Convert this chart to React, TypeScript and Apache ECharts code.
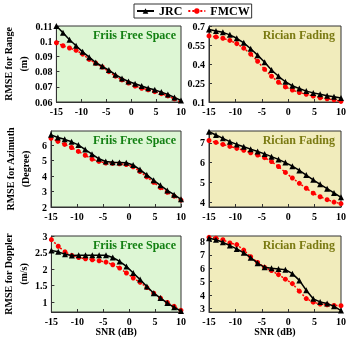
import React, { useEffect, useRef } from "react";
import * as echarts from "echarts";

const SNR = [-15, -13.68, -12.37, -11.05, -9.74, -8.42, -7.11, -5.79, -4.47, -3.16, -1.84, -0.53, 0.79, 2.11, 3.42, 4.74, 6.05, 7.37, 8.68, 10];

const jrcRangeFriis = [0.110, 0.1055, 0.101, 0.097, 0.093, 0.0895, 0.086, 0.0835, 0.081, 0.078, 0.0755, 0.0735, 0.072, 0.0705, 0.069, 0.068, 0.0665, 0.065, 0.063, 0.061];
const fmcwRangeFriis = [0.099, 0.097, 0.0955, 0.094, 0.0915, 0.088, 0.0855, 0.083, 0.080, 0.077, 0.0745, 0.0725, 0.0705, 0.069, 0.068, 0.0668, 0.0655, 0.064, 0.062, 0.0598];

const jrcRangeRician = [0.672, 0.661, 0.65, 0.63, 0.603, 0.567, 0.52, 0.47, 0.414, 0.353, 0.303, 0.26, 0.228, 0.206, 0.186, 0.172, 0.161, 0.15, 0.142, 0.131];
const fmcwRangeRician = [0.622, 0.614, 0.603, 0.586, 0.561, 0.525, 0.478, 0.422, 0.358, 0.303, 0.256, 0.219, 0.194, 0.175, 0.161, 0.147, 0.133, 0.125, 0.117, 0.105];

const jrcAzimuthFriis = [6.67, 6.5, 6.38, 6.22, 6.02, 5.72, 5.42, 5.12, 4.95, 4.9, 4.88, 4.86, 4.72, 4.42, 4.08, 3.73, 3.4, 3.07, 2.8, 2.5];
const fmcwAzimuthFriis = [6.45, 6.25, 6.05, 5.85, 5.6, 5.35, 5.1, 4.95, 4.85, 4.82, 4.8, 4.75, 4.6, 4.3, 3.95, 3.6, 3.25, 2.95, 2.7, 2.45];

const jrcAzimuthRician = [7.56, 7.4, 7.23, 7.06, 6.92, 6.8, 6.68, 6.56, 6.44, 6.3, 6.16, 6.0, 5.82, 5.6, 5.37, 5.13, 4.9, 4.68, 4.46, 4.24];
const fmcwAzimuthRician = [7.12, 7.02, 6.92, 6.82, 6.72, 6.62, 6.5, 6.38, 6.25, 6.05, 5.8, 5.5, 5.22, 4.95, 4.7, 4.45, 4.27, 4.12, 4.0, 3.92];

const jrcDopplerFriis = [2.56, 2.52, 2.45, 2.41, 2.42, 2.42, 2.42, 2.42, 2.42, 2.35, 2.23, 2.08, 1.88, 1.68, 1.47, 1.27, 1.12, 0.97, 0.84, 0.73];
const fmcwDopplerFriis = [2.89, 2.69, 2.52, 2.41, 2.35, 2.31, 2.28, 2.25, 2.21, 2.13, 2.03, 1.88, 1.73, 1.6, 1.44, 1.27, 1.12, 0.99, 0.87, 0.75];

const jrcDopplerRician = [8.24, 8.12, 7.93, 7.69, 7.44, 7.15, 6.79, 6.38, 6.07, 6.0, 5.95, 5.9, 5.6, 5.1, 4.37, 3.73, 3.5, 3.38, 3.17, 2.86];
const fmcwDopplerRician = [8.3, 8.24, 8.12, 7.88, 7.76, 7.35, 6.86, 6.43, 6.07, 5.83, 5.53, 5.19, 4.86, 4.3, 3.75, 3.48, 3.34, 3.29, 3.24, 3.22];

const xTicks = [-15, -10, -5, 0, 5, 10];
const yTicksRangeFriis = [0.06, 0.07, 0.08, 0.09, 0.1, 0.11];
const yTicksRangeRician = [0.1, 0.25, 0.4, 0.55, 0.7];
const yTicksAzimuthFriis = [2, 3, 4, 5, 6];
const yTicksAzimuthRician = [4, 5, 6, 7];
const yTicksDopplerFriis = [1, 1.5, 2, 2.5, 3];
const yTicksDopplerRician = [3, 4, 5, 6, 7, 8];

const yLimits = [
  [0.06, 0.11], [0.1, 0.7],
  [2, 6.92], [3.75, 7.6],
  [0.7, 3], [2.75, 8.4],
];

const yNames = ["RMSE for Range\n(m)", "RMSE for Azimuth\n(Degree)", "RMSE for Doppler\n(m/s)"];
const panelTitles = ["Friis Free Space", "Rician Fading"];
const legendNames = ["JRC", "FMCW"];
const xName = "SNR (dB)";

const FONT = "'Liberation Serif', 'Times New Roman', serif";

export default function App() {
  const ref = useRef<HTMLDivElement>(null);
  useEffect(() => {
    if (!ref.current) return;
    const chart = echarts.init(ref.current, null, { renderer: "svg" });

    const jrcSets = [jrcRangeFriis, jrcRangeRician, jrcAzimuthFriis, jrcAzimuthRician, jrcDopplerFriis, jrcDopplerRician];
    const fmcwSets = [fmcwRangeFriis, fmcwRangeRician, fmcwAzimuthFriis, fmcwAzimuthRician, fmcwDopplerFriis, fmcwDopplerRician];
    const yTickSets = [yTicksRangeFriis, yTicksRangeRician, yTicksAzimuthFriis, yTicksAzimuthRician, yTicksDopplerFriis, yTicksDopplerRician];

    const colLeft = [51, 209];
    const colWidth = [130, 132];
    const rowTop = [26, 131, 236];
    const rowHeight = 76;
    const bg = ["#ddf6d4", "#f1ecbc"];
    const titleColor = ["#138013", "#7a7a12"];
    const titleRight = [183, 24];

    const grids: any[] = [];
    const xAxes: any[] = [];
    const yAxes: any[] = [];
    const series: any[] = [];
    const graphics: any[] = [];

    for (let i = 0; i < 6; i++) {
      const r = Math.floor(i / 2);
      const c = i % 2;
      grids.push({
        left: colLeft[c], top: rowTop[r], width: colWidth[c], height: rowHeight,
        show: true, backgroundColor: bg[c], borderColor: "#333", borderWidth: 1,
      });
      xAxes.push({
        type: "value", gridIndex: i, min: -15, max: 10, interval: 5,
        name: r === 2 ? xName : "", nameLocation: "middle", nameGap: 14,
        nameTextStyle: { fontFamily: FONT, fontWeight: "bold", fontSize: 10, color: "#000" },
        axisLine: { onZero: false, lineStyle: { color: "#333" } },
        axisTick: { inside: true, length: 3, customValues: xTicks, lineStyle: { color: "#333" } },
        axisLabel: { customValues: xTicks, margin: 4, fontFamily: FONT, fontWeight: "bold", fontSize: 10, color: "#000" },
        splitLine: { show: false },
      });
      const yt = yTickSets[i];
      yAxes.push({
        type: "value", gridIndex: i, min: yLimits[i][0], max: yLimits[i][1],
        name: c === 0 ? yNames[r] : "", nameLocation: "middle", nameGap: 18, nameRotate: 90,
        nameTextStyle: { fontFamily: FONT, fontWeight: "bold", fontSize: 10, color: "#000", lineHeight: 15 },
        axisLine: { onZero: false, lineStyle: { color: "#333" } },
        axisTick: { inside: true, length: 3, customValues: yt, lineStyle: { color: "#333" } },
        axisLabel: {
          customValues: yt, margin: 4, fontFamily: FONT, fontWeight: "bold", fontSize: 10, color: "#000",
          formatter: (v: number) => String(parseFloat(v.toFixed(3))),
        },
        splitLine: { show: false },
      });
      series.push({
        name: legendNames[1], type: "line", xAxisIndex: i, yAxisIndex: i,
        data: SNR.map((x, k) => [x, fmcwSets[i][k]]),
        symbol: "circle", symbolSize: 5,
        itemStyle: { color: "#ff0000" },
        lineStyle: { color: "#ff0000", width: 1.5, type: [2, 2] },
        z: 2,
      });
      series.push({
        name: legendNames[0], type: "line", xAxisIndex: i, yAxisIndex: i,
        data: SNR.map((x, k) => [x, jrcSets[i][k]]),
        symbol: "triangle", symbolSize: 6,
        itemStyle: { color: "#000" },
        lineStyle: { color: "#000", width: 1.5 },
        z: 3,
      });
      graphics.push({
        type: "text", right: titleRight[c], top: rowTop[r] + 3, z: 10,
        style: { text: panelTitles[c], fill: titleColor[c], font: `bold 12px ${FONT}` },
      });
    }

    chart.setOption({
      animation: false,
      grid: grids,
      xAxis: xAxes,
      yAxis: yAxes,
      series,
      graphic: graphics,
      legend: {
        data: legendNames, left: 134, top: 4, itemWidth: 17, itemHeight: 7, itemGap: 5,
        padding: [1, 2], borderColor: "#333", borderWidth: 1, backgroundColor: "#fff",
        textStyle: { fontFamily: FONT, fontWeight: "bold", fontSize: 12, color: "#000" },
      },
    });
    return () => chart.dispose();
  }, []);
  return <div ref={ref} style={{ position: "fixed", left: 0, top: 0, width: 359, height: 344 }} />;
}
